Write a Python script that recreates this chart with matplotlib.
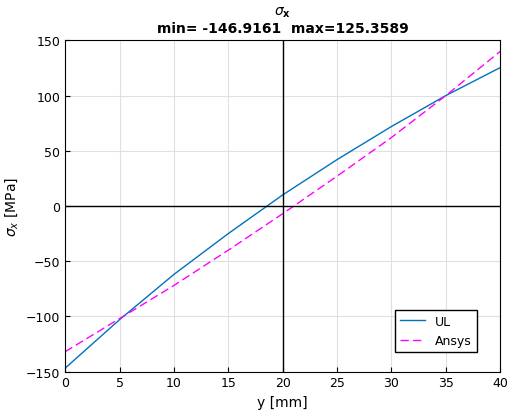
import matplotlib
matplotlib.use("Agg")
import matplotlib.pyplot as plt

y_mm = [0, 5, 10, 15, 20, 25, 30, 35, 40]
ul = [-146.9161, -103, -62, -25, 10, 42, 72, 100, 125.3589]
ansys = [-132, -102, -72, -40, -7, 27, 62, 100, 140]

fig = plt.figure(figsize=(5.21, 4.14), dpi=100)
ax = fig.add_axes([0.125, 0.1, 0.835, 0.8])
ax.plot(y_mm, ul, color='#0072BD', lw=1, label='UL')
ax.plot(y_mm, ansys, color='#FF00FF', lw=1, ls=(0, (6, 3)), label='Ansys')
ax.axvline(20, color='black', lw=1)
ax.axhline(0, color='black', lw=1)
ax.set_xlim(0, 40)
ax.set_ylim(-150, 150)
ax.set_xticks(range(0, 41, 5))
ax.set_yticks(range(-150, 151, 50))
ax.grid(True, color='#e0e0e0', lw=0.8)
ax.set_axisbelow(True)
ax.tick_params(labelsize=9, direction='in')
ax.set_xlabel('y [mm]', fontsize=10)
ax.set_ylabel(r'$\sigma_x$ [MPa]', fontsize=10)
ax.set_title(r'$\sigma_\mathbf{x}$' + '\nmin= -146.9161  max=125.3589', fontsize=10, fontweight='bold')
ax.legend(loc='lower right', bbox_to_anchor=(0.96, 0.04), fontsize=9, fancybox=False, edgecolor='black', framealpha=1)
fig.savefig('out.png', dpi=100)
